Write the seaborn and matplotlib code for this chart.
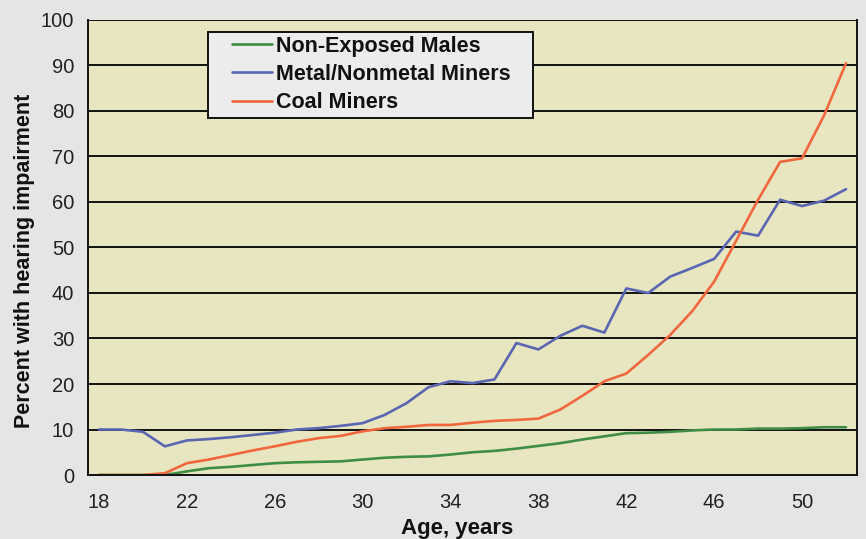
import numpy as np
import pandas as pd
import matplotlib
matplotlib.use("Agg")
import matplotlib.pyplot as plt
from matplotlib.patches import Rectangle
import seaborn as sns

ages = list(range(18, 53))
non_exposed = [0, 0, 0, 0, 0.8, 1.5, 1.8, 2.2, 2.6, 2.8, 2.9, 3.0, 3.4, 3.8, 4.0, 4.1,
               4.5, 5.0, 5.3, 5.8, 6.4, 7.0, 7.8, 8.5, 9.2, 9.3, 9.5, 9.8, 10.0, 10.0,
               10.2, 10.2, 10.3, 10.5, 10.5]
metal = [10, 10, 9.5, 6.3, 7.6, 7.9, 8.3, 8.8, 9.3, 10.0, 10.3, 10.8, 11.4, 13.2, 15.8,
         19.3, 20.6, 20.2, 21.0, 29.0, 27.6, 30.6, 32.8, 31.3, 41.0, 40.0, 43.6, 45.5,
         47.5, 53.5, 52.6, 60.5, 59.1, 60.3, 62.8]
coal = [0, 0, 0, 0.4, 2.6, 3.4, 4.4, 5.4, 6.3, 7.3, 8.1, 8.6, 9.6, 10.3, 10.6, 11.0,
        11.0, 11.5, 11.9, 12.1, 12.4, 14.4, 17.4, 20.6, 22.3, 26.4, 30.8, 36.0, 42.5,
        51.5, 60.5, 68.8, 69.6, 79.0, 90.5]
series_names = ["Non-Exposed Males", "Metal/Nonmetal Miners", "Coal Miners"]
colors = ["#3f8c45", "#5a66b2", "#f0673e"]
y_ticks = list(range(0, 101, 10))
x_labels = [18, 22, 26, 30, 34, 38, 42, 46, 50]

df = pd.DataFrame({
    "Age": ages * 3,
    "Percent": non_exposed + metal + coal,
    "Group": [series_names[0]] * len(ages) + [series_names[1]] * len(ages) + [series_names[2]] * len(ages),
})

sns.set_style("white")
plt.rcParams["font.family"] = ["Liberation Sans", "DejaVu Sans"]

fig = plt.figure(figsize=(8.66, 5.39), dpi=100)
fig.patch.set_facecolor("#e5e5e3")
ax = fig.add_axes([0.1016, 0.1187, 0.888, 0.8443])
ax.set_facecolor("#e7e6c1")

sns.lineplot(data=df, x="Age", y="Percent", hue="Group", hue_order=series_names,
             palette=colors, linewidth=1.9, ax=ax)

ax.set_xlim(17.5, 52.5)
ax.set_ylim(0, 100)
ax.set_yticks(y_ticks)
ax.set_yticklabels([str(v) for v in y_ticks], fontsize=14.5, color="#222222")
ax.set_xticks(x_labels)
ax.set_xticklabels([str(v) for v in x_labels], fontsize=14.5, color="#222222")
ax.set_xticks(np.arange(17.5, 53.0, 1.0), minor=True)
ax.tick_params(axis="x", which="major", length=0, pad=13)
ax.tick_params(axis="x", which="minor", length=5, width=1.2, direction="out", color="#111111")
ax.tick_params(axis="y", which="major", length=6, width=1.2, direction="out", color="#111111", pad=4)
ax.grid(axis="y", color="#111111", linewidth=1.4)
ax.set_axisbelow(True)
for side in ["left", "bottom", "right"]:
    ax.spines[side].set_visible(True)
    ax.spines[side].set_color("#111111")
    ax.spines[side].set_linewidth(1.4)
ax.spines["top"].set_visible(False)

ax.set_xlabel("Age, years", fontsize=16, fontweight="bold", color="#111111")
ax.xaxis.set_label_coords(0.48, -0.095)
ax.set_ylabel("Percent with hearing impairment", fontsize=15.5, fontweight="bold", color="#111111")
ax.yaxis.set_label_coords(-0.069, 0.47)

# legend box (frame) drawn as a rectangle in axes coordinates
frame = Rectangle((0.156, 0.7846), 0.4227, 0.189, transform=ax.transAxes,
                  facecolor="#ececec", edgecolor="#111111", linewidth=1.4, zorder=4)
ax.add_patch(frame)

leg = ax.legend(loc="upper left", bbox_to_anchor=(0.187, 0.965), frameon=False,
                prop={"weight": "bold", "size": 15.5}, handlelength=1.85, handletextpad=0.2,
                labelspacing=0.33, borderpad=0, borderaxespad=0)
leg.set_zorder(5)
for t in leg.get_texts():
    t.set_color("#111111")

fig.savefig("out.png", dpi=100, facecolor=fig.get_facecolor())
